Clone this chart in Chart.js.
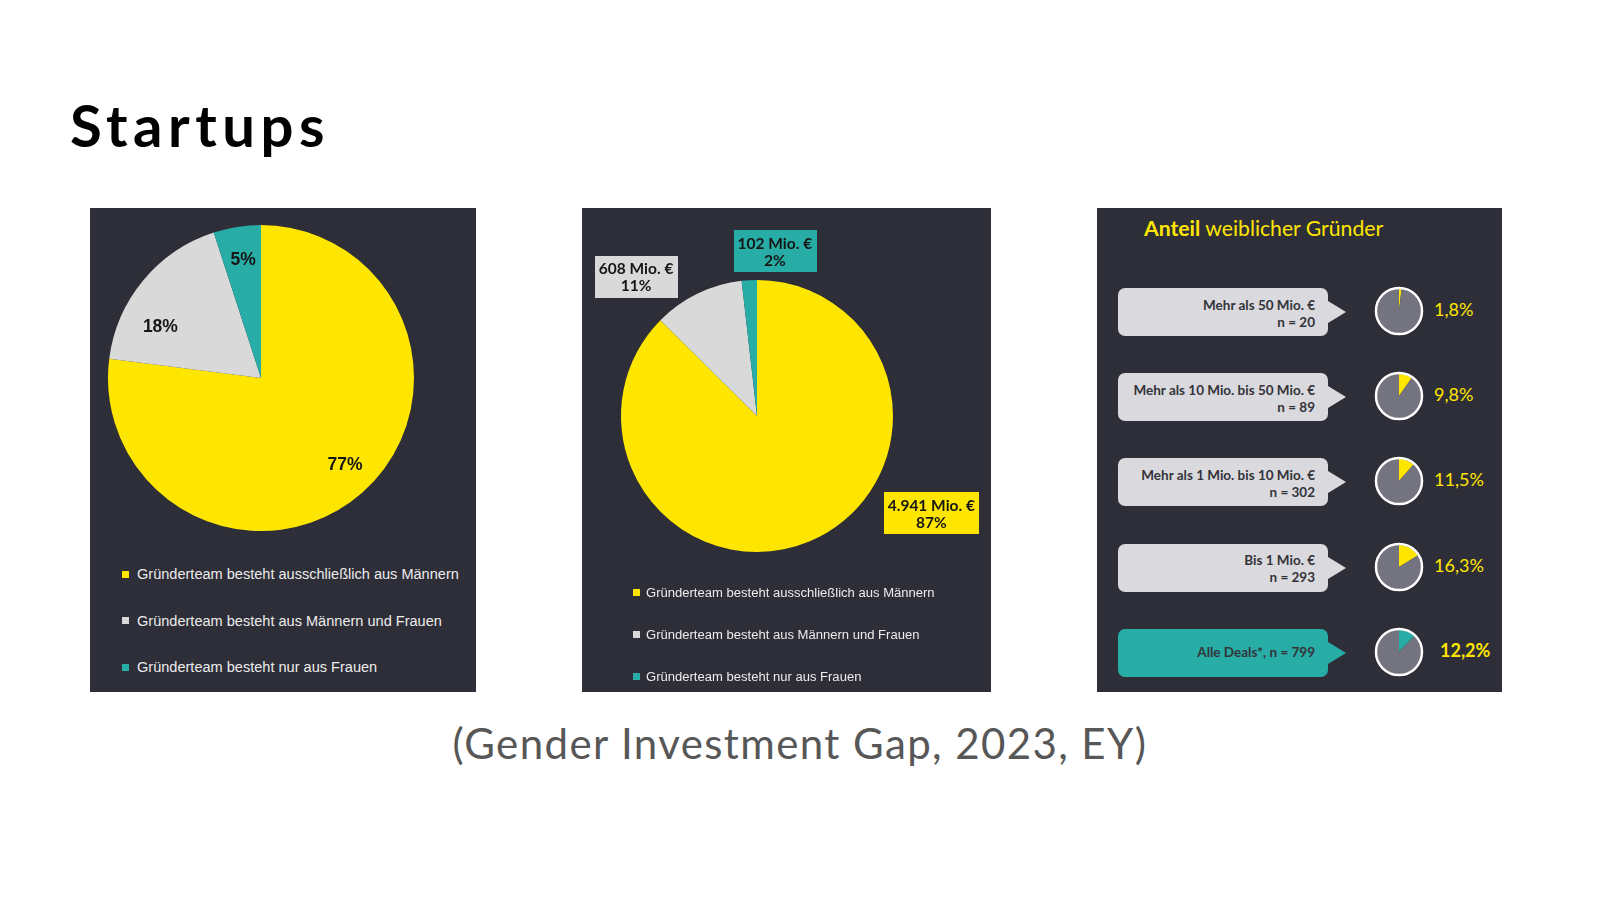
<!DOCTYPE html>
<html lang="de">
<head>
<meta charset="utf-8">
<title>Startups – Gender Investment Gap</title>
<script src="https://cdn.jsdelivr.net/npm/chart.js@4.4.1/dist/chart.umd.min.js"></script>
<style>
  html, body { margin: 0; padding: 0; background: #fff; }
  body { width: 1600px; height: 900px; position: relative; overflow: hidden; font-family: 'Liberation Sans', Arial, sans-serif; }
  #title { position: absolute; left: 70px; top: 96px; margin: 0; font: 700 58px/58px Lato, sans-serif; letter-spacing: 5.5px; color: #000; }
  #caption { position: absolute; left: 0; width: 1600px; top: 722px; text-align: center; font: 400 42px/42px Lato, sans-serif; letter-spacing: 1.4px; color: #575757; }
  .panel { position: absolute; background: #2e2e38; }
  #p1 { left: 90px; top: 208px; width: 386px; height: 484px; }
  #p2 { left: 582px; top: 208px; width: 409px; height: 484px; }
  #p3 { left: 1097px; top: 208px; width: 405px; height: 484px; }
  canvas { position: absolute; }
  #pieTeam { left: 96px; top: 213px; }
  #pieFunding { left: 584px; top: 214px; }
  .legend { position: absolute; color: #ececec; }
  .legend .item { display: flex; align-items: center; white-space: nowrap; }
  .legend .swatch { display: inline-block; flex: none; }
  #legTeam { left: 122px; top: 551px; font-size: 14.55px; }
  #legTeam .item { height: 46.5px; }
  #legTeam .swatch { width: 7px; height: 7px; margin-right: 8px; }
  #legFunding { left: 633px; top: 571px; font-size: 13.05px; }
  #legFunding .item { height: 42px; }
  #legFunding .swatch { width: 7px; height: 7px; margin-right: 6px; }
  #p3title { position: absolute; left: 1144px; top: 215px; font: 400 21.2px/26px Lato, sans-serif; color: #ffe600; white-space: nowrap; }
  #p3title b { font-weight: 700; }
  .callout { position: absolute; left: 1118px; width: 210px; height: 48px; border-radius: 7px; background: #d9d9de;
             font: 700 13.5px/17px Lato, sans-serif; color: #333338; text-align: right; box-sizing: border-box;
             padding-right: 13px; display: flex; flex-direction: column; justify-content: center; align-items: flex-end; padding-top: 3px; }
  .callout.total { background: #27aca6; padding-top: 0; }
  .callout::after { content: ''; position: absolute; left: 100%; top: 13px; border-left: 18px solid #d9d9de;
                    border-top: 11px solid transparent; border-bottom: 11px solid transparent; }
  .callout.total::after { border-left-color: #27aca6; }
  .mini { position: absolute; }
  .share { position: absolute; font: 400 18px/24px Lato, sans-serif; color: #ffe600; white-space: nowrap; }
  .share.total { font-weight: 700; }
</style>
</head>
<body>
<h1 id="title">Startups</h1>

<div class="panel" id="p1"></div>
<div class="panel" id="p2"></div>
<div class="panel" id="p3"></div>

<canvas id="pieTeam" width="330" height="330"></canvas>
<canvas id="pieFunding" width="400" height="390"></canvas>
<div class="legend" id="legTeam"></div>
<div class="legend" id="legFunding"></div>

<div id="p3title"><b>Anteil</b> weiblicher Gründer</div>
<div id="minis"></div>

<div id="caption">(Gender Investment Gap, 2023, EY)</div>

<script>
  // ─── Data ─────────────────────────────────────────────────────────────────
  const teamLabels = [
    'Gründerteam besteht ausschließlich aus Männern',
    'Gründerteam besteht aus Männern und Frauen',
    'Gründerteam besteht nur aus Frauen'
  ];
  const teamShares = [77, 18, 5];            // % of startups
  const fundingMio = [4941, 608, 102];       // invested capital, Mio. €
  const fundingShares = [87, 11, 2];         // % of capital

  const dealBands = [
    'Mehr als 50 Mio. €',
    'Mehr als 10 Mio. bis 50 Mio. €',
    'Mehr als 1 Mio. bis 10 Mio. €',
    'Bis 1 Mio. €',
    'Alle Deals*'
  ];
  const dealCounts = [20, 89, 302, 293, 799];
  const femaleShares = [1.8, 9.8, 11.5, 16.3, 12.2];   // % female founders

  // ─── Style ────────────────────────────────────────────────────────────────
  const YELLOW = '#ffe600';
  const LIGHT = '#d9d9d9';
  const TEAL = '#27aca6';
  const GREY = '#747480';
  const sliceColors = [YELLOW, LIGHT, TEAL];

  // Label spots: polar position relative to the pie centre (deg, × radius)
  const teamSpots = [{ angle: 45.7, dist: 0.786 }, { angle: 207.3, dist: 0.74 }, { angle: 261.5, dist: 0.786 }];
  const fundingSpots = [{ angle: 29.1, dist: 1.467 }, { angle: 229, dist: 1.355 }, { angle: -83.8, dist: 1.217 }];

  function fmtDe(n, digits) {
    return n.toLocaleString('de-DE', { minimumFractionDigits: digits || 0, maximumFractionDigits: digits || 0 });
  }

  // Draws a text label (optionally on a box in the slice colour) for each arc
  function sliceLabels(cfg) {
    return {
      id: 'sliceLabels',
      afterDatasetsDraw: function (chart) {
        const ctx = chart.ctx;
        const arcs = chart.getDatasetMeta(0).data;
        const colors = chart.data.datasets[0].backgroundColor;
        ctx.save();
        ctx.font = cfg.font;
        ctx.textAlign = 'center';
        ctx.textBaseline = 'middle';
        arcs.forEach(function (arc, i) {
          const spot = cfg.spots[i];
          const rad = spot.angle * Math.PI / 180;
          const x = arc.x + Math.cos(rad) * arc.outerRadius * spot.dist;
          const y = arc.y + Math.sin(rad) * arc.outerRadius * spot.dist;
          const lines = cfg.lines[i];
          if (cfg.boxed) {
            const w = Math.max.apply(null, lines.map(function (t) { return ctx.measureText(t).width; })) + cfg.padX * 2;
            const h = lines.length * cfg.lineHeight + cfg.padY * 2;
            ctx.fillStyle = colors[i];
            ctx.fillRect(Math.round(x - w / 2), Math.round(y - h / 2), Math.round(w), Math.round(h));
          }
          ctx.fillStyle = cfg.color;
          lines.forEach(function (t, k) {
            ctx.fillText(t, x, y + (k - (lines.length - 1) / 2) * cfg.lineHeight + 1);
          });
        });
        ctx.restore();
      }
    };
  }

  // White outline round the small pies
  const ringPlugin = {
    id: 'ring',
    afterDatasetsDraw: function (chart) {
      const arc = chart.getDatasetMeta(0).data[0];
      const ctx = chart.ctx;
      ctx.save();
      ctx.strokeStyle = '#ffffff';
      ctx.lineWidth = 2.5;
      ctx.beginPath();
      ctx.arc(arc.x, arc.y, arc.outerRadius + 1, 0, Math.PI * 2);
      ctx.stroke();
      ctx.restore();
    }
  };

  const baseOptions = {
    responsive: false,
    animation: false,
    events: [],
    plugins: { legend: { display: false }, tooltip: { enabled: false } }
  };

  // ─── Pie 1: team composition ──────────────────────────────────────────────
  new Chart(document.getElementById('pieTeam'), {
    type: 'pie',
    data: {
      labels: teamLabels,
      datasets: [{ data: teamShares, backgroundColor: sliceColors, borderWidth: 0 }]
    },
    options: Object.assign({}, baseOptions, { radius: 153, layout: { padding: 0 } }),
    plugins: [sliceLabels({
      spots: teamSpots,
      lines: teamShares.map(function (v) { return [v + '%']; }),
      font: 'bold 17.5px "Liberation Sans", Arial, sans-serif',
      color: '#161616',
      lineHeight: 18
    })]
  });

  // ─── Pie 2: capital by team composition ───────────────────────────────────
  new Chart(document.getElementById('pieFunding'), {
    type: 'pie',
    data: {
      labels: teamLabels,
      datasets: [{ data: fundingMio, backgroundColor: sliceColors, borderWidth: 0 }]
    },
    options: Object.assign({}, baseOptions, {
      radius: 136,
      layout: { padding: { left: 33, right: 87, top: 62, bottom: 48 } }
    }),
    plugins: [sliceLabels({
      spots: fundingSpots,
      lines: fundingMio.map(function (v, i) { return [fmtDe(v) + ' Mio. €', fundingShares[i] + '%']; }),
      font: 'bold 15.5px Lato, sans-serif',
      color: '#161616',
      lineHeight: 17,
      boxed: true,
      padX: 4,
      padY: 4
    })]
  });

  // ─── Legends ──────────────────────────────────────────────────────────────
  function buildLegend(el, labels, colors) {
    labels.forEach(function (txt, i) {
      const row = document.createElement('div');
      row.className = 'item';
      const sw = document.createElement('span');
      sw.className = 'swatch';
      sw.style.background = colors[i];
      const tx = document.createElement('span');
      tx.textContent = txt;
      row.appendChild(sw);
      row.appendChild(tx);
      el.appendChild(row);
    });
  }
  buildLegend(document.getElementById('legTeam'), teamLabels, sliceColors);
  buildLegend(document.getElementById('legFunding'), teamLabels, sliceColors);

  // ─── Panel 3: female founder share by deal size ───────────────────────────
  const ROW0 = 312, ROW_STEP = 85.2, MINI = 54;
  const host = document.getElementById('minis');
  dealBands.forEach(function (band, i) {
    const cy = ROW0 + i * ROW_STEP;
    const isTotal = i === dealBands.length - 1;

    const box = document.createElement('div');
    box.className = 'callout' + (isTotal ? ' total' : '');
    box.style.top = (cy - 24) + 'px';
    if (isTotal) {
      box.innerHTML = '<span></span>';
      box.firstChild.textContent = band + ', n = ' + dealCounts[i];
    } else {
      box.innerHTML = '<span></span><span></span>';
      box.children[0].textContent = band;
      box.children[1].textContent = 'n = ' + dealCounts[i];
    }
    host.appendChild(box);

    const cv = document.createElement('canvas');
    cv.width = MINI; cv.height = MINI;
    cv.className = 'mini';
    cv.style.left = (1399 - MINI / 2) + 'px';
    cv.style.top = (cy - 1 - MINI / 2) + 'px';
    host.appendChild(cv);
    new Chart(cv, {
      type: 'pie',
      data: {
        labels: ['weiblich', 'sonstige'],
        datasets: [{
          data: [femaleShares[i], 100 - femaleShares[i]],
          backgroundColor: [isTotal ? TEAL : YELLOW, GREY],
          borderWidth: 0
        }]
      },
      options: Object.assign({}, baseOptions, { radius: 22, layout: { padding: 0 } }),
      plugins: [ringPlugin]
    });

    const lab = document.createElement('div');
    lab.className = 'share' + (isTotal ? ' total' : '');
    lab.style.left = (isTotal ? 1440 : 1434) + 'px';
    lab.style.top = (cy - 15) + 'px';
    lab.textContent = fmtDe(femaleShares[i], 1) + '%';
    host.appendChild(lab);
  });
</script>
</body>
</html>
